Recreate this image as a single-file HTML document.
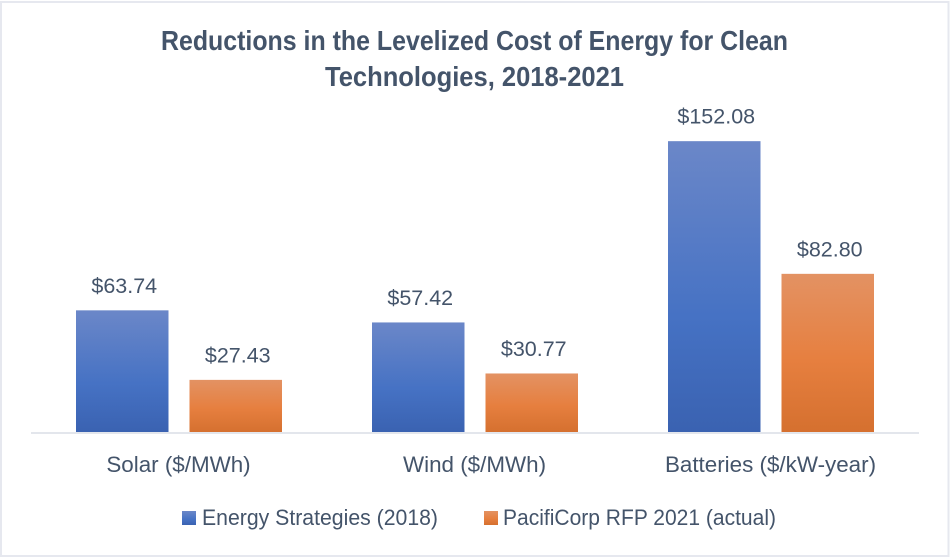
<!DOCTYPE html>
<html lang="en">
<head>
<meta charset="utf-8">
<title>Reductions in the Levelized Cost of Energy for Clean Technologies, 2018-2021</title>
<style>
html,body{margin:0;padding:0;background:#fff;}
svg{display:block;font-family:"Liberation Sans",sans-serif;}
text{fill:#44546a;}
</style>
</head>
<body>
<svg id="chart" xmlns="http://www.w3.org/2000/svg" width="952" height="560" viewBox="0 0 952 560">
  <defs>
    <linearGradient id="blue-grad" x1="0" y1="0" x2="0" y2="1">
      <stop offset="0" stop-color="#6b87c8"/>
      <stop offset="0.6" stop-color="#4672c4"/>
      <stop offset="1" stop-color="#3a62b1"/>
    </linearGradient>
    <linearGradient id="orange-grad" x1="0" y1="0" x2="0" y2="1">
      <stop offset="0" stop-color="#e39263"/>
      <stop offset="0.55" stop-color="#e67f3f"/>
      <stop offset="1" stop-color="#d5702f"/>
    </linearGradient>
  </defs>
  <rect x="0" y="0" width="952" height="560" fill="#ffffff"/>
  <rect x="1" y="2" width="947.5" height="554" fill="none" stroke="#e6e8ef" stroke-width="2"/>
  <text x="474.5" y="50" text-anchor="middle" font-size="27.5" font-weight="700" textLength="627" lengthAdjust="spacingAndGlyphs">Reductions in the Levelized Cost of Energy for Clean</text>
  <text x="474.5" y="86" text-anchor="middle" font-size="27.5" font-weight="700" textLength="299" lengthAdjust="spacingAndGlyphs">Technologies, 2018-2021</text>
  <g id="marks"></g>
  <line x1="31" x2="919" y1="433" y2="433" stroke="#e3e6ec" stroke-width="2"/>
  <g>
    <g>
      <rect x="182" y="511" width="14" height="14" fill="url(#blue-grad)"/>
      <text x="202" y="525" font-size="22" textLength="236" lengthAdjust="spacingAndGlyphs">Energy Strategies (2018)</text>
    </g>
    <g>
      <rect x="484" y="511" width="14" height="14" fill="url(#orange-grad)"/>
      <text x="503" y="525" font-size="22" textLength="273" lengthAdjust="spacingAndGlyphs">PacifiCorp RFP 2021 (actual)</text>
    </g>
  </g>
</svg>
<script>
const categories = ["Solar ($/MWh)", "Wind ($/MWh)", "Batteries ($/kW-year)"];
const energyStrategies2018 = [63.74, 57.42, 152.08];
const pacifiCorpRfp2021 = [27.43, 30.77, 82.80];

const svgNS = "http://www.w3.org/2000/svg";
const marks = document.getElementById("marks");
const plotLeft = 31, plotRight = 919, baseY = 432.4, pxPerUnit = 1.915;
const barWidth = 92.5, barGap = 21;
const bandWidth = (plotRight - plotLeft) / categories.length;

function yScale(v) { return baseY - v * pxPerUnit; }
function bandCenter(i) { return plotLeft + bandWidth * (i + 0.5); }
function barLeft(i, s) {
  const groupWidth = barWidth * 2 + barGap;
  return bandCenter(i) - groupWidth / 2 + s * (barWidth + barGap);
}

function drawBar(i, s, value, fill, seriesKey) {
  const r = document.createElementNS(svgNS, "rect");
  
  
  r.setAttribute("x", barLeft(i, s));
  r.setAttribute("y", yScale(value));
  r.setAttribute("width", barWidth);
  r.setAttribute("height", baseY - yScale(value));
  r.setAttribute("fill", fill);
  marks.appendChild(r);

  const t = document.createElementNS(svgNS, "text");
  
  
  t.setAttribute("x", barLeft(i, s) + barWidth / 2 + 2);
  t.setAttribute("y", yScale(value) - 17.5);
  t.setAttribute("text-anchor", "middle");
  t.setAttribute("font-size", "21.5");
  t.textContent = "$" + value.toFixed(2);
  marks.appendChild(t);
}

categories.forEach(function (name, i) {
  drawBar(i, 0, energyStrategies2018[i], "url(#blue-grad)", "energy-strategies");
  drawBar(i, 1, pacifiCorpRfp2021[i], "url(#orange-grad)", "pacificorp");

  const c = document.createElementNS(svgNS, "text");
  
  
  c.setAttribute("x", bandCenter(i) - 0.5);
  c.setAttribute("y", 472);
  c.setAttribute("text-anchor", "middle");
  c.setAttribute("font-size", "22.4");
  c.textContent = name;
  marks.appendChild(c);
});
</script>
</body>
</html>
